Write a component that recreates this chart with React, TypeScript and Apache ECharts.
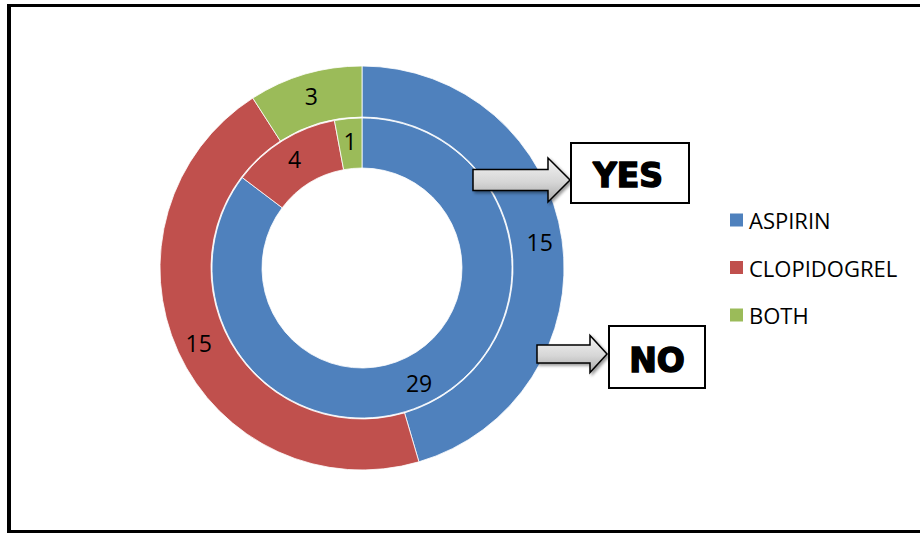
import React, { useEffect, useRef } from "react";
import * as echarts from "echarts";

const categories = ["ASPIRIN", "CLOPIDOGREL", "BOTH"];
const yesValues = [29, 4, 1]; // inner ring
const noValues = [15, 15, 3]; // outer ring
const colors = ["#4F81BD", "#C0504D", "#9BBB59"];
const boxLabels = ["YES", "NO"];

const arrowFill = new echarts.graphic.LinearGradient(0, 0, 0, 1, [
  { offset: 0, color: "#f4f4f4" },
  { offset: 0.55, color: "#d6d6d6" },
  { offset: 1, color: "#a8a8a8" },
]);

function arrow(x0: number, x1: number, tip: number, yc: number, sh: number, hh: number) {
  return {
    type: "polygon",
    shape: {
      points: [
        [x0, yc - sh],
        [x1, yc - sh],
        [x1, yc - hh],
        [tip, yc],
        [x1, yc + hh],
        [x1, yc + sh],
        [x0, yc + sh],
      ],
    },
    style: {
      fill: arrowFill,
      stroke: "#000",
      lineWidth: 1.5,
      shadowBlur: 3,
      shadowOffsetX: 2,
      shadowOffsetY: 2,
      shadowColor: "rgba(0,0,0,0.4)",
    },
    z: 10,
  };
}

export default function App() {
  const ref = useRef<HTMLDivElement>(null);
  useEffect(() => {
    document.body.style.margin = "0";
    const chart = echarts.init(ref.current!, null, { renderer: "svg" });
    const mk = (vals: number[]) =>
      categories.map((c, i) => ({ name: c, value: vals[i], itemStyle: { color: colors[i] } }));
    const labelStyle = {
      show: true,
      position: "inside",
      formatter: "{c}",
      color: "#000",
      fontSize: 23,
      fontFamily: "Open Sans",
    };
    const boxFont = "900 33px 'DejaVu Sans'";
    chart.setOption({
      animation: false,
      backgroundColor: "#fff",
      legend: {
        orient: "vertical",
        left: 723,
        top: 204,
        padding: 5,
        itemWidth: 15,
        itemHeight: 15,
        itemGap: 25.5,
        icon: "rect",
        data: categories,
        textStyle: { fontSize: 22, fontFamily: "Open Sans", color: "#000" },
      },
      series: [
        {
          type: "pie",
          name: "NO",
          center: [362, 268],
          radius: [151, 202],
          startAngle: 90,
          clockwise: true,
          silent: true,
          itemStyle: { borderColor: "#fff", borderWidth: 0.8 },
          label: labelStyle,
          labelLine: { show: false },
          data: mk(noValues),
        },
        {
          type: "pie",
          name: "YES",
          center: [362, 268],
          radius: [100, 150],
          startAngle: 90,
          clockwise: true,
          silent: true,
          itemStyle: { borderColor: "#fff", borderWidth: 0.8 },
          label: labelStyle,
          labelLine: { show: false },
          data: mk(yesValues),
        },
      ],
      graphic: [
        { type: "rect", shape: { x: 7, y: 4, width: 4, height: 529 }, style: { fill: "#000" } },
        { type: "rect", shape: { x: 7, y: 4, width: 913, height: 3 }, style: { fill: "#000" } },
        { type: "rect", shape: { x: 7, y: 530, width: 913, height: 3 }, style: { fill: "#000" } },
        arrow(473, 548, 570, 180, 10.5, 22),
        arrow(537, 590, 607, 354, 9, 18.5),
        {
          type: "rect",
          shape: { x: 571, y: 143, width: 118, height: 60 },
          style: { fill: "#fff", stroke: "#000", lineWidth: 2 },
          z: 10,
        },
        {
          type: "text",
          x: 628,
          y: 175,
          style: {
            text: boxLabels[0],
            fill: "#000",
            stroke: "#000",
            lineWidth: 1.5,
            font: boxFont,
            align: "center",
            verticalAlign: "middle",
          },
          z: 11,
        },
        {
          type: "rect",
          shape: { x: 609, y: 326, width: 96, height: 62 },
          style: { fill: "#fff", stroke: "#000", lineWidth: 2 },
          z: 10,
        },
        {
          type: "text",
          x: 657,
          y: 360,
          style: {
            text: boxLabels[1],
            fill: "#000",
            stroke: "#000",
            lineWidth: 1.5,
            font: boxFont,
            align: "center",
            verticalAlign: "middle",
          },
          z: 11,
        },
      ],
    });
    return () => chart.dispose();
  }, []);
  return <div ref={ref} style={{ width: 920, height: 533 }} />;
}
